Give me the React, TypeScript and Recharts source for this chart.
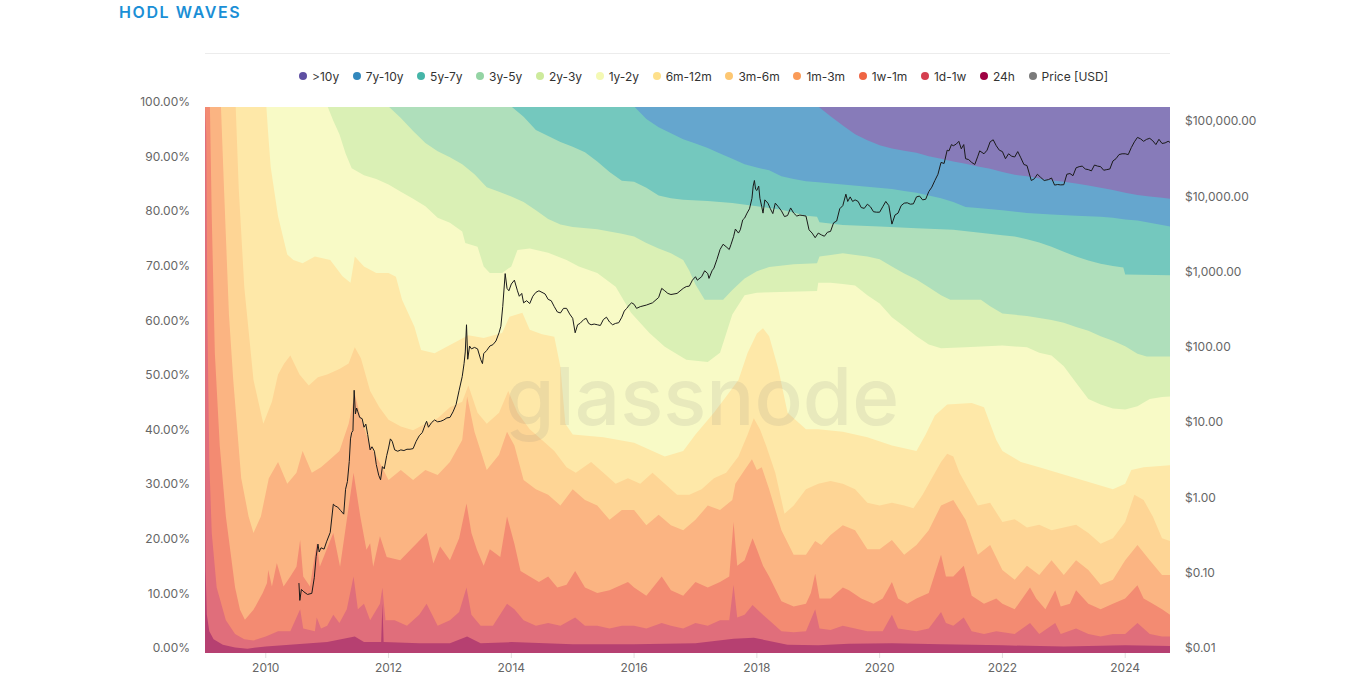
import React from "react";
import { ComposedChart, Area, Line, XAxis, YAxis } from "recharts";

type Pt = [number, number];

const yearTicks = [2010, 2012, 2014, 2016, 2018, 2020, 2022, 2024];
const pctTicks = [0, 10, 20, 30, 40, 50, 60, 70, 80, 90, 100];
const priceTicks = [0.01, 0.1, 1, 10, 100, 1000, 10000, 100000];

// Cumulative share (%) from the bottom up to the top of each band.
const topGt10y: Pt[] = [[2009.01, 100], [2024.73, 100]];
const top7to10y: Pt[] = [[2009.01,100],[2019.01,100],[2019.2,98.3],[2019.4,96.6],[2019.6,95.0],[2019.8,93.9],[2020.0,93.0],[2020.2,92.4],[2020.4,92.0],[2020.6,91.6],[2020.8,91.0],[2021.0,90.5],[2021.2,90.0],[2021.4,89.6],[2021.6,89.1],[2021.8,88.7],[2022.0,88.1],[2022.2,87.6],[2022.4,87.3],[2022.6,86.9],[2022.8,86.6],[2023.0,86.3],[2023.2,86.0],[2023.4,85.6],[2023.6,85.2],[2023.8,84.8],[2024.0,84.3],[2024.2,83.9],[2024.4,83.6],[2024.6,83.4],[2024.73,83.2]];
const top5to7y: Pt[] = [[2009.01,100],[2016.01,100],[2016.2,97.8],[2016.4,96.3],[2016.6,95.2],[2016.8,94.1],[2017.0,93.3],[2017.2,92.5],[2017.4,91.5],[2017.6,90.5],[2017.8,89.5],[2018.0,88.9],[2018.2,88.4],[2018.4,87.3],[2018.6,86.8],[2018.8,86.4],[2019.0,86.2],[2019.4,85.8],[2019.8,85.4],[2020.2,85.0],[2020.4,84.6],[2020.6,84.3],[2020.8,83.8],[2021.0,83.3],[2021.2,82.6],[2021.4,81.7],[2021.6,81.5],[2022.0,81.1],[2022.4,80.6],[2022.8,80.3],[2023.2,80.1],[2023.6,79.9],[2023.8,79.7],[2024.0,79.4],[2024.2,79.2],[2024.4,78.8],[2024.6,78.4],[2024.73,78.1]];
const top3to5y: Pt[] = [[2009.01,100],[2014.01,100],[2014.2,98.2],[2014.4,95.8],[2014.6,94.7],[2014.8,93.6],[2015.0,92.7],[2015.2,91.7],[2015.4,90.0],[2015.6,88.1],[2015.8,86.5],[2016.0,86.3],[2016.2,85.2],[2016.4,83.8],[2016.6,83.3],[2016.8,83.0],[2017.2,82.8],[2017.6,82.4],[2018.0,81.8],[2018.4,81.2],[2018.6,80.7],[2018.8,80.1],[2018.98,79.9],[2019.02,78.9],[2019.4,78.4],[2020.0,78.1],[2020.6,77.8],[2021.2,77.5],[2021.6,77.0],[2022.0,76.5],[2022.2,76.3],[2022.4,75.8],[2022.6,75.2],[2022.8,74.4],[2023.0,73.5],[2023.2,72.6],[2023.4,71.9],[2023.6,71.3],[2023.8,70.9],[2023.97,70.6],[2024.0,69.3],[2024.73,69.2]];
const top2to3y: Pt[] = [[2009.01,100],[2012.01,100],[2012.2,98.0],[2012.4,95.6],[2012.6,93.4],[2012.8,91.9],[2013.0,90.8],[2013.2,89.5],[2013.4,87.7],[2013.6,85.3],[2013.8,84.5],[2014.0,83.6],[2014.2,82.6],[2014.4,81.1],[2014.6,79.5],[2014.8,78.5],[2015.0,78.0],[2015.4,77.6],[2015.8,76.8],[2016.0,76.3],[2016.2,75.1],[2016.4,74.1],[2016.6,73.2],[2016.8,72.0],[2016.9,70.0],[2017.0,67.5],[2017.15,64.7],[2017.45,64.7],[2017.6,66.5],[2017.8,68.6],[2018.0,69.9],[2018.2,70.7],[2018.6,71.2],[2018.98,71.4],[2019.02,72.6],[2019.4,73.2],[2019.8,72.6],[2020.0,72.1],[2020.2,70.8],[2020.4,69.5],[2020.6,68.4],[2020.8,67.0],[2021.0,65.5],[2021.15,64.7],[2021.65,64.7],[2021.8,63.5],[2022.0,62.2],[2022.4,61.7],[2022.8,61.0],[2023.0,60.5],[2023.2,59.7],[2023.4,59.0],[2023.6,58.0],[2023.8,57.2],[2024.0,56.2],[2024.2,54.8],[2024.35,54.3],[2024.73,54.3]];
const top1to2y: Pt[] = [[2009.01,100],[2011.01,100],[2011.1,97.5],[2011.2,95.0],[2011.3,91.5],[2011.4,88.8],[2011.6,87.5],[2011.8,86.8],[2012.0,85.8],[2012.2,84.5],[2012.4,83.2],[2012.6,81.8],[2012.8,79.7],[2013.0,78.8],[2013.2,77.2],[2013.25,75.1],[2013.45,74.4],[2013.55,70.8],[2013.65,69.6],[2013.85,69.6],[2014.0,70.8],[2014.1,73.8],[2014.3,74.1],[2014.6,73.3],[2014.9,72.0],[2015.1,70.8],[2015.4,69.6],[2015.7,67.1],[2015.95,62.3],[2016.25,58.6],[2016.5,56.1],[2016.85,53.7],[2017.2,53.3],[2017.4,55.0],[2017.6,62.0],[2017.8,65.5],[2018.0,66.0],[2018.98,66.3],[2019.0,67.8],[2019.2,67.8],[2019.4,67.6],[2019.6,67.3],[2019.8,65.5],[2020.0,64.0],[2020.2,61.5],[2020.4,59.8],[2020.6,58.0],[2020.8,56.5],[2021.0,55.8],[2021.4,56.0],[2022.0,56.3],[2022.4,56.0],[2022.6,55.0],[2022.8,54.5],[2023.0,52.5],[2023.2,49.5],[2023.4,46.5],[2023.6,45.5],[2023.8,44.8],[2024.0,44.6],[2024.2,45.2],[2024.4,46.5],[2024.6,46.9],[2024.73,47.0]];
const top6to12m: Pt[] = [[2009.01,100],[2010.01,100],[2010.04,95],[2010.08,89],[2010.2,80],[2010.35,73],[2010.45,72],[2010.6,71.4],[2010.8,72.6],[2011.05,72],[2011.25,69],[2011.38,67.8],[2011.45,72.6],[2011.6,70.8],[2011.8,69.6],[2012.0,69.6],[2012.12,68.9],[2012.22,64.7],[2012.42,59.8],[2012.53,55.5],[2012.75,54.9],[2013.1,57],[2013.3,58.2],[2013.55,57.7],[2013.85,58.6],[2013.97,61.6],[2014.18,62.3],[2014.3,59.2],[2014.5,58.4],[2014.7,57.9],[2014.8,52.4],[2014.88,42],[2015.0,40],[2015.5,39.5],[2016.0,38.5],[2016.5,36],[2016.8,37],[2017.0,40],[2017.3,44],[2017.5,47],[2017.7,50],[2017.85,55],[2018.0,58.5],[2018.1,59.5],[2018.2,58],[2018.35,52],[2018.5,44],[2018.8,41],[2019.0,41],[2019.4,40.5],[2019.8,39.5],[2020.2,38],[2020.6,37],[2020.75,40],[2020.9,43.5],[2021.1,45.5],[2021.5,45.8],[2021.7,45],[2021.8,42],[2021.9,39],[2022.0,37],[2022.3,35],[2022.6,34],[2022.9,33],[2023.2,32],[2023.5,31],[2023.8,30],[2024.0,31],[2024.1,33.5],[2024.3,34],[2024.73,34.4]];
const top3to6m: Pt[] = [[2009.01,100],[2009.51,100],[2009.56,85],[2009.65,67],[2009.8,50],[2009.96,42],[2010.1,46],[2010.2,51],[2010.3,53],[2010.4,54.5],[2010.55,51],[2010.7,49],[2010.85,50.5],[2011.0,51],[2011.2,52],[2011.35,53],[2011.45,56],[2011.55,54],[2011.7,48],[2011.85,45],[2012.0,42.7],[2012.2,41.5],[2012.4,40.8],[2012.6,42],[2012.8,43],[2013.0,45],[2013.2,46],[2013.3,49],[2013.45,44],[2013.6,42],[2013.8,44],[2013.95,48],[2014.1,44],[2014.3,41],[2014.5,39],[2014.7,37],[2014.9,34],[2015.05,33],[2015.3,35],[2015.5,33],[2015.7,31],[2015.9,32],[2016.1,31],[2016.3,33],[2016.5,31],[2016.7,29],[2016.9,29],[2017.1,30],[2017.3,32],[2017.5,33],[2017.7,36],[2017.85,40],[2017.95,43],[2018.05,41],[2018.15,38],[2018.3,33],[2018.45,25.5],[2018.6,27],[2018.8,30],[2019.0,31],[2019.2,31.5],[2019.4,31],[2019.6,30],[2019.8,27.5],[2020.0,27],[2020.2,27.5],[2020.4,27],[2020.55,26.5],[2020.7,29],[2020.85,32],[2021.0,35],[2021.1,36.5],[2021.2,36],[2021.3,33],[2021.45,30],[2021.6,27],[2021.8,27.5],[2022.0,24],[2022.2,24.5],[2022.4,23],[2022.6,23.5],[2022.8,22.5],[2023.0,23],[2023.2,23.5],[2023.4,22],[2023.6,20],[2023.8,21],[2024.0,24],[2024.15,29],[2024.3,28],[2024.45,25],[2024.6,21],[2024.73,20.5]];
const top1to3m: Pt[] = [[2009.01,100],[2009.27,100],[2009.32,85],[2009.4,62],[2009.47,50],[2009.6,32],[2009.72,25],[2009.8,22],[2009.92,25],[2010.05,32],[2010.2,35],[2010.35,31],[2010.5,33],[2010.6,37],[2010.75,33],[2010.9,34],[2011.05,35.5],[2011.2,37],[2011.35,42],[2011.45,47.5],[2011.55,43],[2011.7,38],[2011.85,35],[2012.0,31.7],[2012.2,33.5],[2012.4,31.7],[2012.6,33.5],[2012.8,32.6],[2013.0,35],[2013.2,39],[2013.28,47],[2013.4,40.5],[2013.6,33.5],[2013.8,36.3],[2013.93,40.5],[2014.05,38],[2014.2,31.7],[2014.4,30],[2014.6,29],[2014.8,27],[2015.0,30],[2015.2,28],[2015.4,27],[2015.6,24.4],[2015.8,26.2],[2016.0,26.2],[2016.2,23.4],[2016.4,25.3],[2016.6,23.4],[2016.8,22.5],[2017.0,24.4],[2017.2,27],[2017.4,26.2],[2017.6,28],[2017.65,31],[2017.8,33.5],[2017.92,35.5],[2018.0,33.5],[2018.08,34],[2018.2,30],[2018.4,22.5],[2018.6,18],[2018.8,18],[2018.95,20.5],[2019.05,19.8],[2019.2,21.6],[2019.4,23.4],[2019.6,22.5],[2019.8,19],[2020.0,19],[2020.2,20.7],[2020.4,18],[2020.6,19.8],[2020.8,22.5],[2021.0,27],[2021.2,28],[2021.4,24.4],[2021.6,18],[2021.8,19.8],[2022.0,15.2],[2022.2,13.4],[2022.4,16],[2022.6,14.3],[2022.8,17],[2023.0,14.3],[2023.2,17],[2023.4,15.2],[2023.6,12.5],[2023.8,13.4],[2024.0,17],[2024.2,19.8],[2024.4,17],[2024.6,14.3],[2024.73,14.3]];
const top1wto1m: Pt[] = [[2009.01,100],[2009.09,100],[2009.12,80],[2009.17,55],[2009.25,38],[2009.35,25],[2009.5,12],[2009.58,7.9],[2009.66,6.1],[2009.8,7.9],[2009.95,11],[2010.02,12.8],[2010.04,15.2],[2010.1,12.2],[2010.18,16.5],[2010.29,12.2],[2010.4,14],[2010.5,15.8],[2010.56,20.7],[2010.61,14],[2010.72,12.2],[2010.83,20.1],[2010.88,15.8],[2010.99,18.9],[2011.1,22],[2011.21,15.8],[2011.32,24.4],[2011.43,33],[2011.54,25],[2011.64,18.9],[2011.7,20.1],[2011.75,15.8],[2011.86,21.4],[2011.97,17.6],[2012.19,17],[2012.46,20.1],[2012.62,22],[2012.73,16.4],[2012.84,19.5],[2013.0,17],[2013.15,21],[2013.27,27.4],[2013.35,22],[2013.44,18.9],[2013.55,16],[2013.65,19],[2013.82,17.6],[2013.93,25],[2014.05,20],[2014.15,15],[2014.3,14],[2014.45,13],[2014.6,14],[2014.75,12],[2014.9,12.5],[2015.04,15],[2015.2,12],[2015.4,11],[2015.6,11.5],[2015.8,12.5],[2015.9,13],[2016.0,12],[2016.2,10.5],[2016.45,14],[2016.6,11.5],[2016.8,10.5],[2017.0,13],[2017.2,12],[2017.4,13],[2017.55,14],[2017.62,24],[2017.68,16],[2017.8,17],[2017.93,21],[2018.0,19],[2018.1,16],[2018.2,14],[2018.4,9.5],[2018.6,8.5],[2018.8,9],[2018.88,11],[2018.95,14.5],[2019.02,10],[2019.2,10],[2019.4,12],[2019.5,11.5],[2019.7,10],[2019.9,9],[2020.05,10],[2020.2,13],[2020.3,10],[2020.45,9],[2020.6,10],[2020.8,11],[2021.0,18],[2021.08,14],[2021.2,14],[2021.37,16],[2021.5,10.5],[2021.7,9],[2021.9,10],[2022.0,9],[2022.2,8],[2022.45,12],[2022.55,10],[2022.7,8],[2022.86,11.5],[2022.95,8.5],[2023.1,9],[2023.2,11.5],[2023.4,9],[2023.6,8],[2023.8,9],[2024.0,10],[2024.2,12.4],[2024.3,10],[2024.45,9],[2024.6,8],[2024.73,7]];
const top1dto1w: Pt[] = [[2009.01,100],[2009.03,95],[2009.05,60],[2009.08,35],[2009.12,22],[2009.2,12],[2009.35,6],[2009.5,3.5],[2009.65,2.5],[2009.8,2.3],[2010.0,3],[2010.2,4],[2010.4,4],[2010.56,8],[2010.61,4.5],[2010.8,4],[2010.83,6.5],[2010.9,4.5],[2011.0,5],[2011.1,7],[2011.2,5.5],[2011.32,8],[2011.43,14],[2011.5,8],[2011.6,9],[2011.7,6],[2011.86,9],[2011.9,12],[2011.95,6],[2012.1,6],[2012.3,5],[2012.5,7],[2012.62,9],[2012.8,5],[2013.0,6],[2013.15,7.5],[2013.27,12],[2013.35,7],[2013.5,5],[2013.7,5],[2013.93,9],[2014.05,8],[2014.2,6],[2014.4,5],[2014.6,5.5],[2014.8,5],[2015.04,6.5],[2015.2,5],[2015.4,5],[2015.6,4.5],[2015.8,5],[2016.0,5],[2016.2,4.5],[2016.45,5.5],[2016.6,5],[2016.8,4.5],[2017.0,5.5],[2017.2,5],[2017.4,6],[2017.55,6],[2017.62,12.5],[2017.68,6.5],[2017.8,7],[2017.93,8.8],[2018.05,7.5],[2018.2,6],[2018.4,4],[2018.6,3.8],[2018.8,4],[2018.95,8],[2019.02,4.5],[2019.2,4.2],[2019.4,5],[2019.6,4.5],[2019.8,4],[2020.05,4],[2020.2,7],[2020.3,4.5],[2020.6,4],[2020.8,4.5],[2021.0,7.5],[2021.08,5.5],[2021.2,5],[2021.37,6.5],[2021.5,4],[2021.7,3.5],[2021.9,4],[2022.2,3.5],[2022.45,5.5],[2022.6,3.5],[2022.86,5.5],[2022.95,3.5],[2023.2,4.5],[2023.4,3.5],[2023.6,3],[2023.8,3.5],[2024.0,3.5],[2024.2,5.5],[2024.4,3.5],[2024.6,3],[2024.73,3]];
const top24h: Pt[] = [[2009.01,35],[2009.02,15],[2009.04,7],[2009.08,4],[2009.15,2.5],[2009.3,1.5],[2009.5,1],[2009.7,0.8],[2010.0,1.2],[2010.5,1.6],[2011.0,2],[2011.45,3],[2011.6,2],[2011.88,2],[2011.9,9],[2011.92,2],[2012.5,1.8],[2013.0,1.8],[2013.28,3],[2013.5,1.8],[2014.0,2],[2015.0,1.6],[2016.0,1.6],[2017.0,1.8],[2017.62,2.6],[2017.95,2.8],[2018.5,1.5],[2019.0,1.4],[2019.5,1.7],[2020.2,1.8],[2021.0,1.6],[2022.0,1.4],[2023.0,1.2],[2024.0,1.4],[2024.73,1.3]];

// BTC price (USD).
const priceUsd: Pt[] = [[2010.54,0.085],[2010.555,0.05],[2010.58,0.07],[2010.62,0.065],[2010.68,0.06],[2010.75,0.062],[2010.79,0.1],[2010.82,0.19],[2010.85,0.28],[2010.87,0.22],[2010.9,0.25],[2010.95,0.24],[2010.99,0.3],[2011.05,0.4],[2011.1,0.95],[2011.13,0.9],[2011.17,0.87],[2011.22,0.78],[2011.27,0.7],[2011.3,1.5],[2011.33,1.9],[2011.36,3.5],[2011.38,7],[2011.4,8.5],[2011.42,9],[2011.43,18],[2011.44,31],[2011.46,15],[2011.48,18],[2011.5,16],[2011.53,13.5],[2011.57,13],[2011.6,10],[2011.63,11],[2011.66,8],[2011.7,5],[2011.73,5.5],[2011.77,4.8],[2011.8,3.2],[2011.84,2.3],[2011.87,2.0],[2011.9,3.0],[2011.93,2.8],[2011.97,4.2],[2012.0,5.3],[2012.03,7],[2012.06,6.5],[2012.1,5.0],[2012.15,4.8],[2012.2,5.0],[2012.25,4.9],[2012.3,5.1],[2012.35,5.1],[2012.4,5.2],[2012.45,6.5],[2012.5,7.7],[2012.55,8.5],[2012.6,11],[2012.62,12],[2012.65,10],[2012.7,11.5],[2012.75,12.5],[2012.8,11.8],[2012.85,12],[2012.9,12.5],[2012.95,13.3],[2013.0,13.5],[2013.05,16],[2013.1,20],[2013.15,31],[2013.2,47],[2013.23,70],[2013.25,100],[2013.27,230],[2013.29,80],[2013.32,120],[2013.35,110],[2013.4,115],[2013.45,110],[2013.5,80],[2013.53,70],[2013.55,95],[2013.6,105],[2013.65,120],[2013.7,125],[2013.75,140],[2013.8,180],[2013.83,220],[2013.86,400],[2013.9,1100],[2013.93,700],[2013.96,650],[2014.0,800],[2014.05,900],[2014.1,650],[2014.13,550],[2014.17,600],[2014.2,450],[2014.25,480],[2014.3,440],[2014.35,550],[2014.4,620],[2014.45,650],[2014.5,620],[2014.55,590],[2014.6,500],[2014.65,480],[2014.7,400],[2014.75,340],[2014.8,330],[2014.85,380],[2014.9,380],[2014.95,320],[2015.0,280],[2015.04,180],[2015.08,230],[2015.12,240],[2015.18,270],[2015.22,280],[2015.26,240],[2015.3,230],[2015.35,235],[2015.4,230],[2015.45,225],[2015.5,270],[2015.55,290],[2015.6,250],[2015.65,230],[2015.7,240],[2015.75,245],[2015.8,290],[2015.84,350],[2015.88,380],[2015.92,420],[2015.96,450],[2016.0,430],[2016.04,380],[2016.1,400],[2016.2,420],[2016.3,450],[2016.4,530],[2016.45,700],[2016.5,650],[2016.55,600],[2016.6,580],[2016.7,600],[2016.8,700],[2016.85,740],[2016.9,750],[2016.95,900],[2017.0,1000],[2017.03,900],[2017.1,1000],[2017.15,1200],[2017.2,1100],[2017.22,950],[2017.27,1200],[2017.3,1300],[2017.35,1700],[2017.4,2300],[2017.45,2700],[2017.5,2500],[2017.55,2300],[2017.58,2700],[2017.62,3400],[2017.65,4300],[2017.7,3800],[2017.73,4200],[2017.77,5700],[2017.8,6000],[2017.84,7000],[2017.88,8000],[2017.92,11000],[2017.94,16000],[2017.96,19000],[2017.98,14500],[2018.0,14000],[2018.03,16000],[2018.05,11000],[2018.08,8500],[2018.1,7000],[2018.13,10500],[2018.18,9500],[2018.22,8000],[2018.26,6900],[2018.3,9500],[2018.35,8500],[2018.4,7500],[2018.45,6300],[2018.5,6500],[2018.55,8200],[2018.6,7000],[2018.65,6400],[2018.7,6600],[2018.75,6500],[2018.8,6400],[2018.85,4200],[2018.9,3800],[2018.95,3300],[2019.0,3800],[2019.05,3600],[2019.1,3450],[2019.15,3900],[2019.2,4000],[2019.25,5200],[2019.3,5500],[2019.35,8000],[2019.4,8800],[2019.45,12500],[2019.48,10000],[2019.52,11500],[2019.56,10000],[2019.6,10500],[2019.65,10000],[2019.7,8300],[2019.75,8100],[2019.8,9200],[2019.85,8500],[2019.9,7300],[2019.95,7200],[2020.0,7200],[2020.05,8500],[2020.1,10000],[2020.15,8800],[2020.2,5000],[2020.25,6600],[2020.3,7000],[2020.35,8800],[2020.4,9500],[2020.45,9600],[2020.5,9200],[2020.55,9300],[2020.6,11500],[2020.65,11800],[2020.7,10500],[2020.75,10700],[2020.8,13500],[2020.85,15500],[2020.9,19000],[2020.95,23000],[2021.0,33000],[2021.05,32000],[2021.1,48000],[2021.13,47000],[2021.17,57000],[2021.2,55000],[2021.25,58000],[2021.29,63000],[2021.33,50000],[2021.37,57000],[2021.4,37000],[2021.45,36000],[2021.5,33000],[2021.55,31000],[2021.6,40000],[2021.63,47000],[2021.7,43000],[2021.75,48000],[2021.8,62000],[2021.85,66000],[2021.9,55000],[2021.95,48000],[2022.0,46000],[2022.05,37000],[2022.1,43000],[2022.15,40000],[2022.2,39000],[2022.25,46000],[2022.3,38000],[2022.35,31000],[2022.4,30000],[2022.47,19000],[2022.52,20000],[2022.57,23000],[2022.62,21000],[2022.68,19000],[2022.75,19500],[2022.8,20500],[2022.85,16500],[2022.9,16800],[2022.95,16600],[2023.0,16700],[2023.05,23000],[2023.1,23500],[2023.15,22000],[2023.2,28000],[2023.25,29000],[2023.3,29500],[2023.35,27000],[2023.4,26500],[2023.45,25500],[2023.5,30500],[2023.55,29500],[2023.6,29000],[2023.65,26000],[2023.7,26500],[2023.75,27000],[2023.8,34500],[2023.85,37000],[2023.9,42000],[2023.95,43000],[2024.0,43000],[2024.05,42000],[2024.1,52000],[2024.15,62000],[2024.2,71000],[2024.25,68000],[2024.3,63000],[2024.35,67000],[2024.4,69000],[2024.45,64000],[2024.5,57000],[2024.55,67000],[2024.6,59000],[2024.65,60000],[2024.7,63000],[2024.73,61000]];

const rows = (pts: Pt[]) => pts.map(([t, v]) => ({ t, v }));

const SERIES = [
  { name: ">10y", color: "#5e4fa2", fill: "#877bb9", pts: topGt10y },
  { name: "7y-10y", color: "#3288bd", fill: "#65a6ce", pts: top7to10y },
  { name: "5y-7y", color: "#45b5a8", fill: "#74c8be", pts: top5to7y },
  { name: "3y-5y", color: "#94d4a4", fill: "#afdfbb", pts: top3to5y },
  { name: "2y-3y", color: "#cdea9c", fill: "#daf0b5", pts: top2to3y },
  { name: "1y-2y", color: "#f4f9b4", fill: "#f8fac6", pts: top1to2y },
  { name: "6m-12m", color: "#fee08b", fill: "#fee8a8", pts: top6to12m },
  { name: "3m-6m", color: "#fdc772", fill: "#fed595", pts: top3to6m },
  { name: "1m-3m", color: "#fa9b58", fill: "#fbb482", pts: top1to3m },
  { name: "1w-1m", color: "#ef6543", fill: "#f38b72", pts: top1wto1m },
  { name: "1d-1w", color: "#d53e4f", fill: "#e06e7b", pts: top1dto1w },
  { name: "24h", color: "#9e0142", fill: "#b64071", pts: top24h },
];

const FONT = "Inter, 'Noto Sans', Arial, sans-serif";

const fmtPrice = (v: number) =>
  "$" + v.toLocaleString("en-US", { minimumFractionDigits: 2, maximumFractionDigits: 2 });

const LeftTick = (p: any) => (
  <text x={190} y={p.y - 5} dy="0.35em" textAnchor="end" fontSize={12} fill="#666" fontFamily={FONT}>
    {Number(p.payload.value).toFixed(2)}%
  </text>
);
const RightTick = (p: any) => (
  <text x={1185} y={p.y - 5} dy="0.35em" textAnchor="start" fontSize={12} fill="#666" fontFamily={FONT}>
    {fmtPrice(Number(p.payload.value))}
  </text>
);
const BottomTick = (p: any) => (
  <text x={p.x} y={668} dy="0.35em" textAnchor="middle" fontSize={12} fill="#666" fontFamily={FONT}>
    {p.payload.value}
  </text>
);

export default function App() {
  return (
    <div style={{ position: "absolute", left: 0, top: 0, width: 1365, height: 688, background: "#fff", fontFamily: FONT }}>
      <div
        style={{
          position: "absolute", left: 119, top: 3, fontSize: 16, lineHeight: "18px", fontWeight: 600,
          letterSpacing: 1.6, color: "#1a8fd6",
        }}
      >
        HODL WAVES
      </div>
      <div style={{ position: "absolute", left: 205, top: 53, width: 965, height: 1, background: "#ececec" }} />
      <div style={{ position: "absolute", left: 299, top: 68, height: 16, display: "flex", alignItems: "center", gap: 13.6 }}>
        {[...SERIES.map((s) => ({ name: s.name, color: s.color })), { name: "Price [USD]", color: "#7a7a7a" }].map((it) => (
          <div key={it.name} style={{ display: "flex", alignItems: "center" }}>
            <span style={{ width: 8, height: 8, borderRadius: 4, background: it.color, marginRight: 5, display: "inline-block" }} />
            <span style={{ fontSize: 12, color: "#333", whiteSpace: "nowrap" }}>{it.name}</span>
          </div>
        ))}
      </div>
      <div style={{ position: "absolute", left: 0, top: 0 }}>
        <ComposedChart width={1365} height={688} margin={{ top: 107, right: 0, bottom: 5, left: 0 }}>
          <XAxis
            dataKey="t"
            type="number"
            domain={[2009.01, 2024.73]}
            ticks={yearTicks}
            allowDataOverflow
            height={30}
            axisLine={false}
            tickLine={{ stroke: "#e0e0e0" }}
            tickSize={5}
            tick={BottomTick}
          />
          <YAxis
            yAxisId="pct"
            orientation="left"
            type="number"
            domain={[0, 100]}
            ticks={pctTicks}
            width={205}
            axisLine={false}
            tickLine={false}
            tick={LeftTick}
            allowDataOverflow
          />
          <YAxis
            yAxisId="price"
            orientation="right"
            type="number"
            scale="log"
            domain={[0.01, 180000]}
            ticks={priceTicks}
            width={195}
            axisLine={false}
            tickLine={false}
            tick={RightTick}
            allowDataOverflow
          />
          {SERIES.map((s) => (
            <Area
              key={s.name}
              name={s.name}
              yAxisId="pct"
              data={rows(s.pts)}
              dataKey="v"
              type="linear"
              stroke="none"
              fill={s.fill}
              fillOpacity={1}
              isAnimationActive={false}
              dot={false}
              activeDot={false}
            />
          ))}
          <Line
            name="Price [USD]"
            yAxisId="price"
            data={rows(priceUsd)}
            dataKey="v"
            type="linear"
            stroke="#1a1a1a"
            strokeWidth={1}
            dot={false}
            activeDot={false}
            isAnimationActive={false}
          />
        </ComposedChart>
      </div>
      <svg width={1365} height={688} style={{ position: "absolute", left: 0, top: 0, pointerEvents: "none" }}>
        <text x={505} y={425} fontSize={80} fontFamily={FONT} fontWeight={500} fill="rgba(120,120,120,0.13)">
          glassnode
        </text>
      </svg>
    </div>
  );
}
